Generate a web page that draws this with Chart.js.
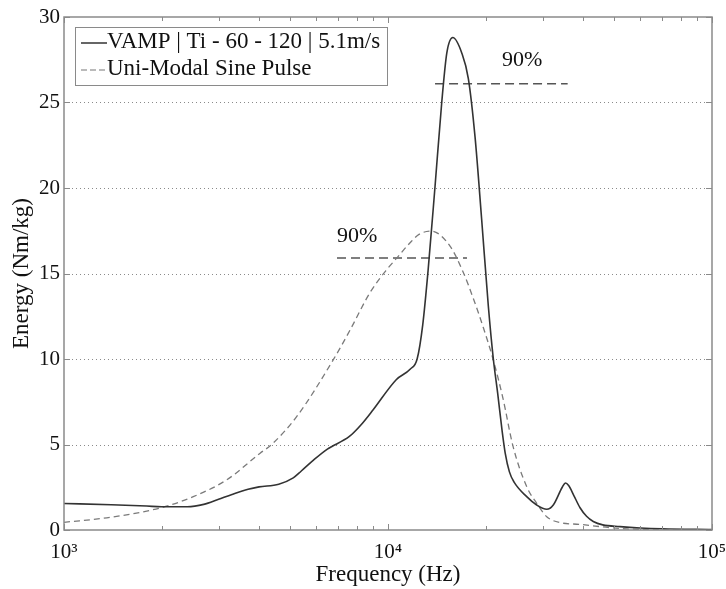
<!DOCTYPE html>
<html lang="en">
<head>
    <meta charset="UTF-8">
    <title>Energy spectrum</title>
    <script src="https://cdn.jsdelivr.net/npm/chart.js"></script>
    <style>
        body { margin: 0; background: #ffffff; }
        .chart-box { width: 726px; height: 589px; }
    </style>
</head>
<body>
<div class="chart-box">
    <canvas id="energyChart" width="726" height="589"></canvas>
</div>
<script>
    // VAMP measured curve (Hz, Nm/kg)
    const vampFreq = [1000, 1400, 1800, 2000, 2400, 2700, 3000, 3300, 3700, 4000, 4600, 5100, 5400, 5900, 6500, 7600, 8300, 9000, 10600, 11700, 12300, 12800, 13300, 13970, 14650, 15190, 15850, 16890, 17700, 18560, 19450, 20400, 21140, 21800, 22500, 23000, 23700, 24500, 26800, 28770, 30900, 32370, 34500, 35300, 36100, 37500, 39150, 41000, 43000, 46000, 52000, 60000, 70000, 100000];
    const vampEnergy = [1.55, 1.48, 1.4, 1.36, 1.36, 1.5, 1.8, 2.08, 2.38, 2.52, 2.68, 3.05, 3.45, 4.1, 4.73, 5.47, 6.2, 7.03, 8.79, 9.4, 10.0, 12.0, 15.2, 20.1, 25.0, 27.9, 28.8, 27.9, 26.4, 23.0, 18.2, 13.1, 10.0, 8.0, 5.8, 4.5, 3.4, 2.8, 1.95, 1.46, 1.21, 1.46, 2.5, 2.75, 2.6, 2.0, 1.3, 0.8, 0.5, 0.3, 0.2, 0.12, 0.07, 0.03];

    // uni-modal sine pulse curve
    const sineFreq = [1000, 1387, 2000, 2506, 3177, 4030, 4373, 5230, 6780, 7640, 8790, 9910, 10640, 11700, 12500, 13600, 15540, 17040, 18290, 19640, 21090, 22640, 24310, 26850, 28770, 30900, 33960, 39150, 45100, 54600, 70000, 100000];
    const sineEnergy = [0.45, 0.74, 1.31, 1.95, 2.93, 4.49, 5.0, 6.64, 9.96, 11.7, 13.87, 15.23, 15.9, 16.8, 17.3, 17.48, 16.6, 15.1, 13.6, 11.9, 10.0, 7.7, 4.9, 2.5, 1.56, 0.78, 0.43, 0.33, 0.2, 0.06, 0.03, 0.02];

    // 90% bandwidth markers
    const band1Freq = [13970, 35850];
    const band1Energy = [26.1, 26.1];
    const band2Freq = [6960, 17530];
    const band2Energy = [15.9, 15.9];
    const noteFreq = [22490, 6960];
    const noteEnergy = [27.5, 17.2];
    const noteText = ['90%', '90%'];

    const seriesNames = ['VAMP | Ti - 60 - 120 | 5.1m/s', 'Uni-Modal Sine Pulse'];
    const yTicks = [0, 5, 10, 15, 20, 25, 30];
    const xMajor = [1000, 10000, 100000];
    const xLabels = { 1000: '10\u00B3', 10000: '10\u2074', 100000: '10\u2075' };

    const toPoints = (xs, ys) => xs.map((x, i) => ({ x: x, y: ys[i] }));
    const serif = 'Liberation Serif, Times New Roman, serif';

    // minor ticks 2..9 x 10^n
    const xMinor = [];
    [1000, 10000].forEach(d => { for (let k = 2; k <= 9; k++) xMinor.push(d * k); });

    const framePlugin = {
        id: 'frame',
        beforeDatasetsDraw(chart) {
            const { ctx, chartArea: a, scales: { y } } = chart;
            ctx.save();
            ctx.strokeStyle = '#8a8a8a';
            ctx.lineWidth = 1;
            ctx.setLineDash([1, 3]);
            yTicks.slice(1, -1).forEach(v => {
                const py = Math.round(y.getPixelForValue(v)) + 0.5;
                ctx.beginPath();
                ctx.moveTo(a.left, py);
                ctx.lineTo(a.right, py);
                ctx.stroke();
            });
            ctx.restore();
        },
        afterDatasetsDraw(chart) {
            const { ctx, chartArea: a, scales: { x, y } } = chart;
            ctx.save();
            ctx.strokeStyle = '#8a8a8a';
            ctx.lineWidth = 1.5;
            ctx.strokeRect(a.left, a.top, a.right - a.left, a.bottom - a.top);
            ctx.lineWidth = 1;
            ctx.beginPath();
            yTicks.forEach(v => {
                const py = Math.round(y.getPixelForValue(v)) + 0.5;
                ctx.moveTo(a.left, py); ctx.lineTo(a.left + 6, py);
                ctx.moveTo(a.right, py); ctx.lineTo(a.right - 6, py);
            });
            xMajor.forEach(v => {
                const px = Math.round(x.getPixelForValue(v)) + 0.5;
                ctx.moveTo(px, a.bottom); ctx.lineTo(px, a.bottom - 6);
                ctx.moveTo(px, a.top); ctx.lineTo(px, a.top + 6);
            });
            xMinor.forEach(v => {
                const px = Math.round(x.getPixelForValue(v)) + 0.5;
                ctx.moveTo(px, a.bottom); ctx.lineTo(px, a.bottom - 4);
                ctx.moveTo(px, a.top); ctx.lineTo(px, a.top + 4);
            });
            ctx.stroke();

            // 90% notes
            ctx.fillStyle = '#111';
            ctx.font = '22px ' + serif;
            ctx.textBaseline = 'middle';
            noteText.forEach((t, i) => {
                ctx.fillText(t, x.getPixelForValue(noteFreq[i]), y.getPixelForValue(noteEnergy[i]));
            });

            // legend box
            const lx = a.left + 11, ly = a.top + 10, lw = 312, lh = 58;
            ctx.fillStyle = '#fff';
            ctx.fillRect(lx, ly, lw, lh);
            ctx.strokeStyle = '#8a8a8a';
            ctx.strokeRect(lx + 0.5, ly + 0.5, lw, lh);
            const rows = [ly + 16, ly + 43];
            ctx.lineWidth = 1.5;
            ctx.strokeStyle = '#333';
            ctx.beginPath(); ctx.moveTo(lx + 6, rows[0]); ctx.lineTo(lx + 32, rows[0]); ctx.stroke();
            ctx.lineWidth = 1.2;
            ctx.strokeStyle = '#777';
            ctx.setLineDash([6, 3]);
            ctx.beginPath(); ctx.moveTo(lx + 6, rows[1]); ctx.lineTo(lx + 32, rows[1]); ctx.stroke();
            ctx.setLineDash([]);
            ctx.fillStyle = '#111';
            ctx.font = '23px ' + serif;
            seriesNames.forEach((n, i) => ctx.fillText(n, lx + 32, rows[i] - 1));
            ctx.restore();
        }
    };

    const ctx = document.getElementById('energyChart').getContext('2d');
    new Chart(ctx, {
        type: 'line',
        data: {
            datasets: [
                {
                    label: seriesNames[0],
                    data: toPoints(vampFreq, vampEnergy),
                    borderColor: '#333333',
                    borderWidth: 1.6,
                    cubicInterpolationMode: 'monotone'
                },
                {
                    label: seriesNames[1],
                    data: toPoints(sineFreq, sineEnergy),
                    borderColor: '#7a7a7a',
                    borderWidth: 1.3,
                    borderDash: [6, 4],
                    cubicInterpolationMode: 'monotone'
                },
                {
                    label: 'band1',
                    data: toPoints(band1Freq, band1Energy),
                    borderColor: '#555555',
                    borderWidth: 1.5,
                    borderDash: [9, 5]
                },
                {
                    label: 'band2',
                    data: toPoints(band2Freq, band2Energy),
                    borderColor: '#555555',
                    borderWidth: 1.5,
                    borderDash: [9, 5]
                }
            ]
        },
        options: {
            responsive: false,
            animation: false,
            elements: { point: { radius: 0 } },
            layout: { padding: { top: 17, right: 14, left: 0, bottom: 0 } },
            plugins: { legend: { display: false }, tooltip: { enabled: false } },
            scales: {
                x: {
                    type: 'logarithmic',
                    min: 1000,
                    max: 100000,
                    grid: { display: false, drawTicks: false },
                    border: { display: false },
                    afterBuildTicks: s => { s.ticks = xMajor.map(v => ({ value: v })); },
                    afterFit: s => { s.height = 59; s.paddingLeft = 0; s.paddingRight = 0; },
                    ticks: {
                        color: '#111',
                        font: { family: serif, size: 21 },
                        padding: 10,
                        maxRotation: 0,
                        autoSkip: false,
                        callback: v => xLabels[v] || ''
                    },
                    title: {
                        display: true,
                        text: 'Frequency (Hz)',
                        color: '#111',
                        font: { family: serif, size: 23 },
                        padding: { top: 0, bottom: 0 }
                    }
                },
                y: {
                    min: 0,
                    max: 30,
                    grid: { display: false, drawTicks: false },
                    border: { display: false },
                    afterBuildTicks: s => { s.ticks = yTicks.map(v => ({ value: v })); },
                    afterFit: s => { s.width = 64; s.paddingTop = 0; s.paddingBottom = 0; },
                    ticks: {
                        color: '#111',
                        font: { family: serif, size: 21 },
                        padding: 4
                    },
                    title: {
                        display: true,
                        text: 'Energy (Nm/kg)',
                        color: '#111',
                        font: { family: serif, size: 23 },
                        padding: { top: 8, bottom: 0 }
                    }
                }
            }
        },
        plugins: [framePlugin]
    });
</script>
</body>
</html>
